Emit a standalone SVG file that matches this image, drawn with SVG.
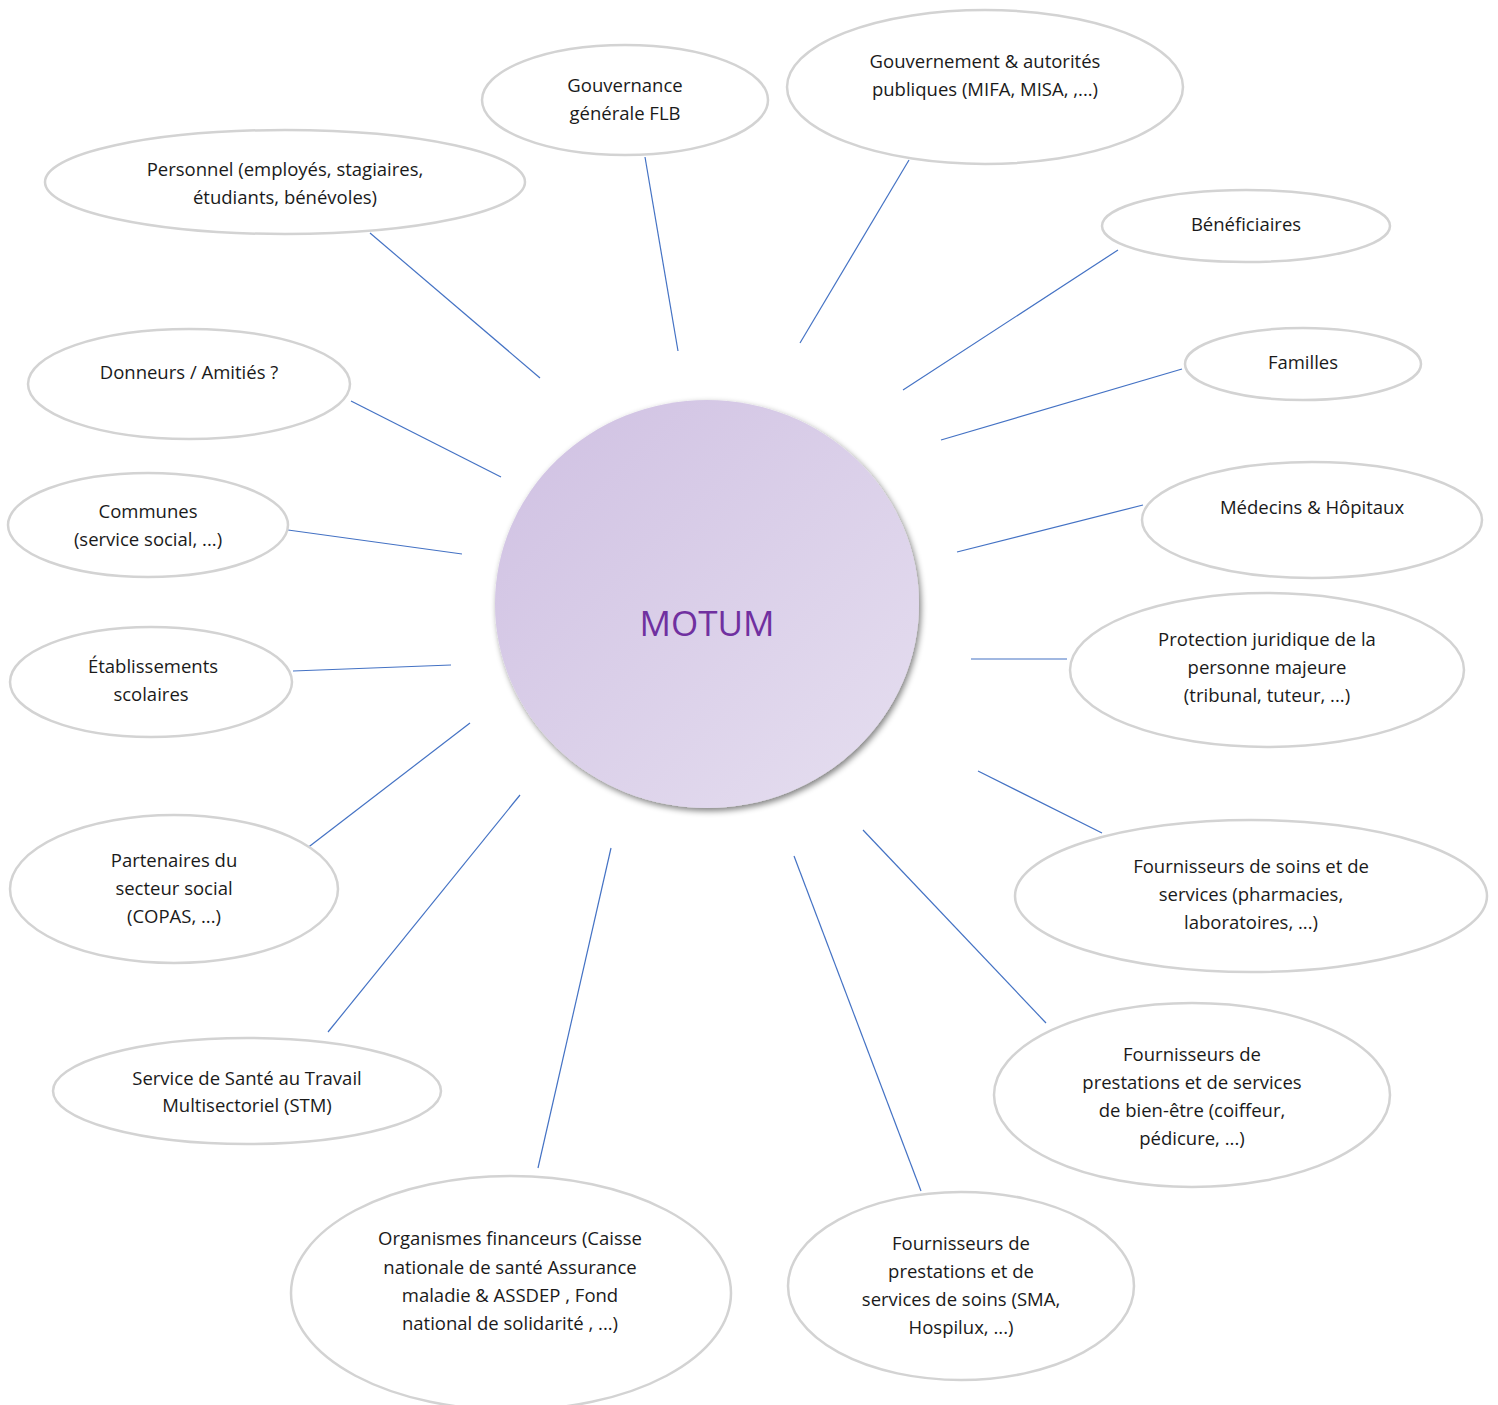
<svg xmlns="http://www.w3.org/2000/svg" width="1498" height="1405" viewBox="0 0 1498 1405">
<style>
.n{fill:#fff;stroke:#d3d3d3;stroke-width:2.5}
.t{font-family:"Open Sans","Liberation Sans",sans-serif;font-size:18.5px;fill:#1a1a1a;text-anchor:middle}
.c line{stroke:#4472c4;stroke-width:1.2}
</style>
<defs>
<linearGradient id="g" x1="0" y1="0" x2="1" y2="1">
<stop offset="0" stop-color="#cfc0e2"/>
<stop offset="1" stop-color="#e6dff0"/>
</linearGradient>
<filter id="sh" x="-10%" y="-10%" width="125%" height="125%">
<feGaussianBlur in="SourceAlpha" stdDeviation="3"/>
<feOffset dx="2" dy="3" result="b"/>
<feComponentTransfer><feFuncA type="linear" slope="0.5"/></feComponentTransfer>
<feMerge><feMergeNode/><feMergeNode in="SourceGraphic"/></feMerge>
</filter>
</defs>
<rect width="1498" height="1405" fill="#fff"/>
<g class="c" id="connectors">
<line x1="370" y1="233" x2="540" y2="378"/>
<line x1="645" y1="157" x2="678" y2="351"/>
<line x1="909" y1="160" x2="800" y2="343"/>
<line x1="1118" y1="250" x2="903" y2="390"/>
<line x1="1182" y1="369" x2="941" y2="440"/>
<line x1="351" y1="401" x2="501" y2="477"/>
<line x1="1143" y1="505" x2="957" y2="552"/>
<line x1="288" y1="530" x2="462" y2="554"/>
<line x1="971" y1="659" x2="1067" y2="659"/>
<line x1="293" y1="671" x2="451" y2="665"/>
<line x1="978" y1="771" x2="1102" y2="833"/>
<line x1="306" y1="849" x2="470" y2="723"/>
<line x1="863" y1="830" x2="1046" y2="1023"/>
<line x1="328" y1="1032" x2="520" y2="795"/>
<line x1="611" y1="848" x2="538" y2="1168"/>
<line x1="794" y1="856" x2="921" y2="1191"/>
</g>
<g id="motum">
<ellipse cx="707" cy="604" rx="212" ry="204" fill="url(#g)" filter="url(#sh)"/>
<text x="707" y="636" style="font-family:'Open Sans','Liberation Sans',sans-serif;font-size:35px;fill:#7030a0;text-anchor:middle">MOTUM</text>
</g>
<g id="gouvernance"><ellipse class="n" cx="625" cy="100" rx="143" ry="55"/><text class="t" x="625" y="92">Gouvernance</text><text class="t" x="625" y="120">générale FLB</text></g>
<g id="gouvernement"><ellipse class="n" cx="985" cy="87" rx="198" ry="77"/><text class="t" x="985" y="68">Gouvernement &amp; autorités</text><text class="t" x="985" y="96">publiques (MIFA, MISA, ,...)</text></g>
<g id="personnel"><ellipse class="n" cx="285" cy="182" rx="240" ry="52"/><text class="t" x="285" y="176">Personnel (employés, stagiaires,</text><text class="t" x="285" y="204">étudiants, bénévoles)</text></g>
<g id="beneficiaires"><ellipse class="n" cx="1246" cy="226" rx="144" ry="36"/><text class="t" x="1246" y="231">Bénéficiaires</text></g>
<g id="familles"><ellipse class="n" cx="1303" cy="364" rx="118" ry="36"/><text class="t" x="1303" y="369">Familles</text></g>
<g id="donneurs"><ellipse class="n" cx="189" cy="384" rx="161" ry="55"/><text class="t" x="189" y="379">Donneurs / Amitiés ?</text></g>
<g id="medecins"><ellipse class="n" cx="1312" cy="520" rx="170" ry="58"/><text class="t" x="1312" y="514">Médecins &amp; Hôpitaux</text></g>
<g id="communes"><ellipse class="n" cx="148" cy="525" rx="140" ry="52"/><text class="t" x="148" y="518">Communes</text><text class="t" x="148" y="546">(service social, ...)</text></g>
<g id="protection"><ellipse class="n" cx="1267" cy="670" rx="197" ry="77"/><text class="t" x="1267" y="646">Protection juridique de la</text><text class="t" x="1267" y="674">personne majeure</text><text class="t" x="1267" y="702">(tribunal, tuteur, ...)</text></g>
<g id="etablissements"><ellipse class="n" cx="151" cy="682" rx="141" ry="55"/><text class="t" x="153" y="673">Établissements</text><text class="t" x="151" y="701">scolaires</text></g>
<g id="fournisseurs-soins-services"><ellipse class="n" cx="1251" cy="896" rx="236" ry="76"/><text class="t" x="1251" y="873">Fournisseurs de soins et de</text><text class="t" x="1251" y="901">services (pharmacies,</text><text class="t" x="1251" y="929">laboratoires, ...)</text></g>
<g id="partenaires"><ellipse class="n" cx="174" cy="889" rx="164" ry="74"/><text class="t" x="174" y="867">Partenaires du</text><text class="t" x="174" y="895">secteur social</text><text class="t" x="174" y="923">(COPAS, ...)</text></g>
<g id="bien-etre"><ellipse class="n" cx="1192" cy="1095" rx="198" ry="92"/><text class="t" x="1192" y="1061">Fournisseurs de</text><text class="t" x="1192" y="1089">prestations et de services</text><text class="t" x="1192" y="1117">de bien-être (coiffeur,</text><text class="t" x="1192" y="1145">pédicure, ...)</text></g>
<g id="stm"><ellipse class="n" cx="247" cy="1091" rx="194" ry="53"/><text class="t" x="247" y="1085">Service de Santé au Travail</text><text class="t" x="247" y="1112">Multisectoriel (STM)</text></g>
<g id="organismes"><ellipse class="n" cx="511" cy="1293" rx="220" ry="117"/><text class="t" x="510" y="1245">Organismes financeurs (Caisse</text><text class="t" x="510" y="1274">nationale de santé Assurance</text><text class="t" x="510" y="1302">maladie &amp; ASSDEP , Fond</text><text class="t" x="510" y="1330">national de solidarité , ...)</text></g>
<g id="soins-sma"><ellipse class="n" cx="961" cy="1286" rx="173" ry="94"/><text class="t" x="961" y="1250">Fournisseurs de</text><text class="t" x="961" y="1278">prestations et de</text><text class="t" x="961" y="1306">services de soins (SMA,</text><text class="t" x="961" y="1334">Hospilux, ...)</text></g>
</svg>
